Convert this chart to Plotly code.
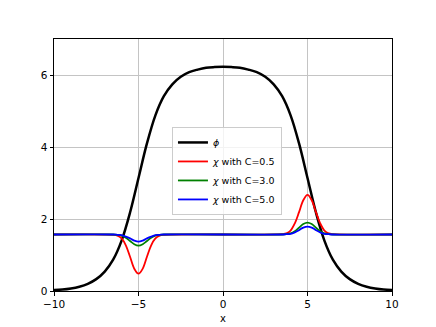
import plotly.graph_objects as go

# phi profile
x_phi = [-10, -9.5, -9, -8.5, -8, -7.5, -7, -6.5, -6, -5.5, -5, -4.5, -4, -3.5, -3,
         -2.5, -2, -1.5, -1, -0.5, 0, 0.5, 1, 1.5, 2, 2.5, 3, 3.5, 4, 4.5, 5,
         5.5, 6, 6.5, 7, 7.5, 8, 8.5, 9, 9.5, 10]
phi = [0.03, 0.04, 0.07, 0.12, 0.20, 0.33, 0.54, 0.87, 1.40, 2.18, 3.14, 4.10, 4.88, 5.41, 5.74,
       5.95, 6.08, 6.15, 6.20, 6.22, 6.23, 6.22, 6.20, 6.15, 6.08, 5.95, 5.74, 5.41, 4.88, 4.10, 3.14,
       2.18, 1.40, 0.87, 0.54, 0.33, 0.20, 0.12, 0.07, 0.04, 0.03]

# chi profiles for the three values of C
x_chi = [-10, -6.5, -6.25, -6, -5.75, -5.5, -5.25, -5, -4.75, -4.5, -4.25, -4, -3.75, -3.5,
         3.5, 3.75, 4, 4.25, 4.5, 4.75, 5, 5.25, 5.5, 5.75, 6, 6.25, 6.5, 10]
chi_c05 = [1.57, 1.56, 1.54, 1.46, 1.27, 0.95, 0.62, 0.48, 0.62, 0.95, 1.27, 1.46, 1.54, 1.56,
           1.58, 1.60, 1.68, 1.88, 2.19, 2.52, 2.67, 2.52, 2.19, 1.88, 1.68, 1.60, 1.58, 1.57]
chi_c30 = [1.57, 1.57, 1.56, 1.54, 1.48, 1.39, 1.30, 1.26, 1.30, 1.39, 1.48, 1.54, 1.56, 1.57,
           1.57, 1.58, 1.60, 1.66, 1.76, 1.86, 1.90, 1.86, 1.76, 1.66, 1.60, 1.58, 1.57, 1.57]
chi_c50 = [1.57, 1.57, 1.56, 1.55, 1.51, 1.46, 1.40, 1.37, 1.40, 1.46, 1.51, 1.55, 1.56, 1.57,
           1.57, 1.58, 1.59, 1.63, 1.69, 1.76, 1.79, 1.76, 1.69, 1.63, 1.59, 1.58, 1.57, 1.57]

fig = go.Figure()
fig.add_trace(go.Scatter(x=x_phi, y=phi, mode="lines", name="<i>ϕ</i>",
                         line=dict(color="black", width=2.5, shape="spline")))
for name, y, col in [("<i>χ</i> with C=0.5", chi_c05, "red"),
                     ("<i>χ</i> with C=3.0", chi_c30, "green"),
                     ("<i>χ</i> with C=5.0", chi_c50, "blue")]:
    fig.add_trace(go.Scatter(x=x_chi, y=y, mode="lines", name=name,
                             line=dict(color=col, width=1.8, shape="spline")))

axis_style = dict(showline=True, linecolor="black", linewidth=1, mirror=True,
                  ticks="outside", ticklen=3.5, tickcolor="black",
                  showgrid=True, gridcolor="#c4c4c4", gridwidth=1, zeroline=False,
                  tickfont=dict(size=10.5))

# the page body adds an 8px offset, so margins are shifted to compensate
fig.update_layout(
    width=436, height=327,
    margin=dict(l=46, r=52, t=31, b=44),
    paper_bgcolor="white", plot_bgcolor="white",
    font=dict(family="DejaVu Sans", size=10, color="black"),
    xaxis=dict(range=[-10, 10], tickvals=[-10, -5, 0, 5, 10],
               title=dict(text="x", standoff=5, font=dict(size=10)), **axis_style),
    yaxis=dict(range=[0, 7], tickvals=[0, 2, 4, 6], **axis_style),
    legend=dict(x=0.349, y=0.651, xanchor="left", yanchor="top",
                bgcolor="rgba(255,255,255,0.8)", bordercolor="#cccccc", borderwidth=1,
                font=dict(size=9.5), tracegroupgap=0, itemwidth=30),
    showlegend=True,
)

fig.write_html("out.html")
